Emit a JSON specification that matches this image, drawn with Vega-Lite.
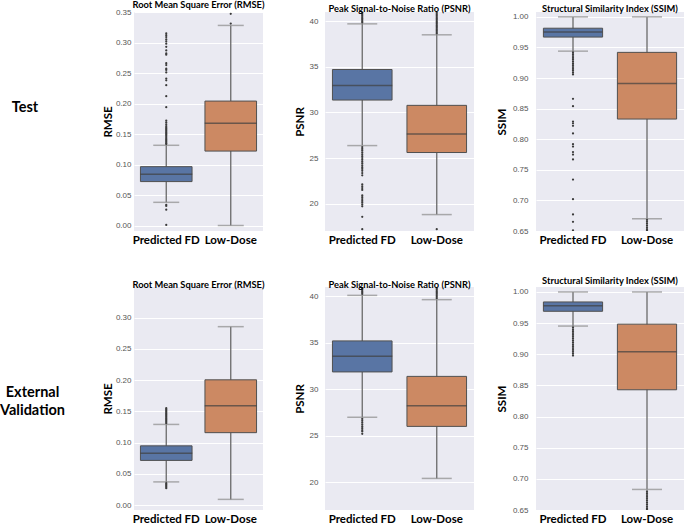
{
"$schema": "https://vega.github.io/schema/vega-lite/v6.json",
"padding": 0,
"background": "white",
"bounds": "flush",
"columns": 4,
"spacing": {"row": 56, "column": 62},
"config": {
  "view": {"fill": "#EAEAF2", "stroke": null},
  "title": {"font": "Lato", "fontSize": 9.3, "fontWeight": "bold", "color": "black", "offset": -2},
  "axisY": {"domain": false, "ticks": false, "labelFont": "Liberation Sans", "labelFontSize": 8, "labelColor": "#555555", "gridColor": "white", "gridWidth": 1, "titleFont": "Lato", "titleFontSize": 11.5, "titleFontWeight": "bold", "titleColor": "black", "labelOverlap": false},
  "axisX": {"domain": false, "ticks": false, "grid": false, "labelAngle": 0, "labelFont": "Lato", "labelFontSize": 11.5, "labelFontWeight": "bold", "labelColor": "black", "labelPadding": 3, "title": null},
  "tick": {"thickness": 1.5}
},
"datasets": {
  "boxes": [
    {"p": "T-RMSE", "group": "Predicted FD", "lo": 0.038, "q1": 0.072, "med": 0.084, "q3": 0.0965, "hi": 0.1315},
    {"p": "T-RMSE", "group": "Low-Dose", "lo": 0.0, "q1": 0.122, "med": 0.1675, "q3": 0.204, "hi": 0.328},
    {"p": "T-PSNR", "group": "Predicted FD", "lo": 26.36, "q1": 31.35, "med": 32.95, "q3": 34.7, "hi": 39.7},
    {"p": "T-PSNR", "group": "Low-Dose", "lo": 18.8, "q1": 25.6, "med": 27.64, "q3": 30.77, "hi": 38.5},
    {"p": "T-SSIM", "group": "Predicted FD", "lo": 0.944, "q1": 0.967, "med": 0.9754, "q3": 0.9815, "hi": 1.0},
    {"p": "T-SSIM", "group": "Low-Dose", "lo": 0.67, "q1": 0.833, "med": 0.891, "q3": 0.942, "hi": 1.0},
    {"p": "E-RMSE", "group": "Predicted FD", "lo": 0.037, "q1": 0.0714, "med": 0.083, "q3": 0.0947, "hi": 0.129},
    {"p": "E-RMSE", "group": "Low-Dose", "lo": 0.009, "q1": 0.1158, "med": 0.159, "q3": 0.2004, "hi": 0.2855},
    {"p": "E-PSNR", "group": "Predicted FD", "lo": 26.98, "q1": 31.86, "med": 33.56, "q3": 35.2, "hi": 40.1},
    {"p": "E-PSNR", "group": "Low-Dose", "lo": 20.4, "q1": 26.0, "med": 28.22, "q3": 31.38, "hi": 39.64},
    {"p": "E-SSIM", "group": "Predicted FD", "lo": 0.9453, "q1": 0.969, "med": 0.9777, "q3": 0.984, "hi": 1.0},
    {"p": "E-SSIM", "group": "Low-Dose", "lo": 0.683, "q1": 0.843, "med": 0.904, "q3": 0.9484, "hi": 1.0}
  ],
  "outliers": [
    {"p": "T-RMSE", "group": "Predicted FD", "v": 0.1335}, {"p": "T-RMSE", "group": "Predicted FD", "v": 0.135}, {"p": "T-RMSE", "group": "Predicted FD", "v": 0.137}, {"p": "T-RMSE", "group": "Predicted FD", "v": 0.139}, {"p": "T-RMSE", "group": "Predicted FD", "v": 0.141}, {"p": "T-RMSE", "group": "Predicted FD", "v": 0.143}, {"p": "T-RMSE", "group": "Predicted FD", "v": 0.145}, {"p": "T-RMSE", "group": "Predicted FD", "v": 0.147}, {"p": "T-RMSE", "group": "Predicted FD", "v": 0.149}, {"p": "T-RMSE", "group": "Predicted FD", "v": 0.151}, {"p": "T-RMSE", "group": "Predicted FD", "v": 0.153}, {"p": "T-RMSE", "group": "Predicted FD", "v": 0.155}, {"p": "T-RMSE", "group": "Predicted FD", "v": 0.157}, {"p": "T-RMSE", "group": "Predicted FD", "v": 0.159}, {"p": "T-RMSE", "group": "Predicted FD", "v": 0.161}, {"p": "T-RMSE", "group": "Predicted FD", "v": 0.163}, {"p": "T-RMSE", "group": "Predicted FD", "v": 0.166}, {"p": "T-RMSE", "group": "Predicted FD", "v": 0.169}, {"p": "T-RMSE", "group": "Predicted FD", "v": 0.172}, {"p": "T-RMSE", "group": "Predicted FD", "v": 0.194}, {"p": "T-RMSE", "group": "Predicted FD", "v": 0.212}, {"p": "T-RMSE", "group": "Predicted FD", "v": 0.23}, {"p": "T-RMSE", "group": "Predicted FD", "v": 0.238}, {"p": "T-RMSE", "group": "Predicted FD", "v": 0.241}, {"p": "T-RMSE", "group": "Predicted FD", "v": 0.251}, {"p": "T-RMSE", "group": "Predicted FD", "v": 0.255}, {"p": "T-RMSE", "group": "Predicted FD", "v": 0.257}, {"p": "T-RMSE", "group": "Predicted FD", "v": 0.263}, {"p": "T-RMSE", "group": "Predicted FD", "v": 0.266}, {"p": "T-RMSE", "group": "Predicted FD", "v": 0.28}, {"p": "T-RMSE", "group": "Predicted FD", "v": 0.282}, {"p": "T-RMSE", "group": "Predicted FD", "v": 0.287}, {"p": "T-RMSE", "group": "Predicted FD", "v": 0.293}, {"p": "T-RMSE", "group": "Predicted FD", "v": 0.298}, {"p": "T-RMSE", "group": "Predicted FD", "v": 0.302}, {"p": "T-RMSE", "group": "Predicted FD", "v": 0.305}, {"p": "T-RMSE", "group": "Predicted FD", "v": 0.309}, {"p": "T-RMSE", "group": "Predicted FD", "v": 0.312}, {"p": "T-RMSE", "group": "Predicted FD", "v": 0.315}, {"p": "T-RMSE", "group": "Predicted FD", "v": 0.034}, {"p": "T-RMSE", "group": "Predicted FD", "v": 0.032}, {"p": "T-RMSE", "group": "Predicted FD", "v": 0.026}, {"p": "T-RMSE", "group": "Predicted FD", "v": 0.001},
    {"p": "T-RMSE", "group": "Low-Dose", "v": 0.331}, {"p": "T-RMSE", "group": "Low-Dose", "v": 0.347},
    {"p": "T-PSNR", "group": "Predicted FD", "v": 39.85}, {"p": "T-PSNR", "group": "Predicted FD", "v": 40.0}, {"p": "T-PSNR", "group": "Predicted FD", "v": 40.15}, {"p": "T-PSNR", "group": "Predicted FD", "v": 40.3}, {"p": "T-PSNR", "group": "Predicted FD", "v": 40.45}, {"p": "T-PSNR", "group": "Predicted FD", "v": 40.6}, {"p": "T-PSNR", "group": "Predicted FD", "v": 40.75}, {"p": "T-PSNR", "group": "Predicted FD", "v": 40.9}, {"p": "T-PSNR", "group": "Predicted FD", "v": 26.2}, {"p": "T-PSNR", "group": "Predicted FD", "v": 26.0}, {"p": "T-PSNR", "group": "Predicted FD", "v": 25.8}, {"p": "T-PSNR", "group": "Predicted FD", "v": 25.6}, {"p": "T-PSNR", "group": "Predicted FD", "v": 25.4}, {"p": "T-PSNR", "group": "Predicted FD", "v": 25.2}, {"p": "T-PSNR", "group": "Predicted FD", "v": 25.0}, {"p": "T-PSNR", "group": "Predicted FD", "v": 24.8}, {"p": "T-PSNR", "group": "Predicted FD", "v": 24.6}, {"p": "T-PSNR", "group": "Predicted FD", "v": 24.4}, {"p": "T-PSNR", "group": "Predicted FD", "v": 24.2}, {"p": "T-PSNR", "group": "Predicted FD", "v": 24.0}, {"p": "T-PSNR", "group": "Predicted FD", "v": 23.8}, {"p": "T-PSNR", "group": "Predicted FD", "v": 23.6}, {"p": "T-PSNR", "group": "Predicted FD", "v": 23.35}, {"p": "T-PSNR", "group": "Predicted FD", "v": 23.1}, {"p": "T-PSNR", "group": "Predicted FD", "v": 22.1}, {"p": "T-PSNR", "group": "Predicted FD", "v": 21.9}, {"p": "T-PSNR", "group": "Predicted FD", "v": 21.7}, {"p": "T-PSNR", "group": "Predicted FD", "v": 21.5}, {"p": "T-PSNR", "group": "Predicted FD", "v": 20.9}, {"p": "T-PSNR", "group": "Predicted FD", "v": 20.7}, {"p": "T-PSNR", "group": "Predicted FD", "v": 20.5}, {"p": "T-PSNR", "group": "Predicted FD", "v": 20.3}, {"p": "T-PSNR", "group": "Predicted FD", "v": 20.1}, {"p": "T-PSNR", "group": "Predicted FD", "v": 19.9}, {"p": "T-PSNR", "group": "Predicted FD", "v": 19.7}, {"p": "T-PSNR", "group": "Predicted FD", "v": 18.55}, {"p": "T-PSNR", "group": "Predicted FD", "v": 17.2},
    {"p": "T-PSNR", "group": "Low-Dose", "v": 38.65}, {"p": "T-PSNR", "group": "Low-Dose", "v": 38.8}, {"p": "T-PSNR", "group": "Low-Dose", "v": 38.95}, {"p": "T-PSNR", "group": "Low-Dose", "v": 39.1}, {"p": "T-PSNR", "group": "Low-Dose", "v": 39.25}, {"p": "T-PSNR", "group": "Low-Dose", "v": 39.4}, {"p": "T-PSNR", "group": "Low-Dose", "v": 39.55}, {"p": "T-PSNR", "group": "Low-Dose", "v": 39.7}, {"p": "T-PSNR", "group": "Low-Dose", "v": 39.85}, {"p": "T-PSNR", "group": "Low-Dose", "v": 40.0}, {"p": "T-PSNR", "group": "Low-Dose", "v": 40.15}, {"p": "T-PSNR", "group": "Low-Dose", "v": 40.3}, {"p": "T-PSNR", "group": "Low-Dose", "v": 40.45}, {"p": "T-PSNR", "group": "Low-Dose", "v": 40.6}, {"p": "T-PSNR", "group": "Low-Dose", "v": 40.75}, {"p": "T-PSNR", "group": "Low-Dose", "v": 40.9}, {"p": "T-PSNR", "group": "Low-Dose", "v": 17.2},
    {"p": "T-SSIM", "group": "Predicted FD", "v": 0.942}, {"p": "T-SSIM", "group": "Predicted FD", "v": 0.939}, {"p": "T-SSIM", "group": "Predicted FD", "v": 0.936}, {"p": "T-SSIM", "group": "Predicted FD", "v": 0.933}, {"p": "T-SSIM", "group": "Predicted FD", "v": 0.93}, {"p": "T-SSIM", "group": "Predicted FD", "v": 0.927}, {"p": "T-SSIM", "group": "Predicted FD", "v": 0.924}, {"p": "T-SSIM", "group": "Predicted FD", "v": 0.921}, {"p": "T-SSIM", "group": "Predicted FD", "v": 0.918}, {"p": "T-SSIM", "group": "Predicted FD", "v": 0.915}, {"p": "T-SSIM", "group": "Predicted FD", "v": 0.912}, {"p": "T-SSIM", "group": "Predicted FD", "v": 0.909}, {"p": "T-SSIM", "group": "Predicted FD", "v": 0.906}, {"p": "T-SSIM", "group": "Predicted FD", "v": 0.866}, {"p": "T-SSIM", "group": "Predicted FD", "v": 0.854}, {"p": "T-SSIM", "group": "Predicted FD", "v": 0.829}, {"p": "T-SSIM", "group": "Predicted FD", "v": 0.826}, {"p": "T-SSIM", "group": "Predicted FD", "v": 0.822}, {"p": "T-SSIM", "group": "Predicted FD", "v": 0.8095}, {"p": "T-SSIM", "group": "Predicted FD", "v": 0.792}, {"p": "T-SSIM", "group": "Predicted FD", "v": 0.788}, {"p": "T-SSIM", "group": "Predicted FD", "v": 0.779}, {"p": "T-SSIM", "group": "Predicted FD", "v": 0.775}, {"p": "T-SSIM", "group": "Predicted FD", "v": 0.767}, {"p": "T-SSIM", "group": "Predicted FD", "v": 0.734}, {"p": "T-SSIM", "group": "Predicted FD", "v": 0.702}, {"p": "T-SSIM", "group": "Predicted FD", "v": 0.677}, {"p": "T-SSIM", "group": "Predicted FD", "v": 0.665}, {"p": "T-SSIM", "group": "Predicted FD", "v": 0.651},
    {"p": "T-SSIM", "group": "Low-Dose", "v": 0.668}, {"p": "T-SSIM", "group": "Low-Dose", "v": 0.665}, {"p": "T-SSIM", "group": "Low-Dose", "v": 0.662}, {"p": "T-SSIM", "group": "Low-Dose", "v": 0.659}, {"p": "T-SSIM", "group": "Low-Dose", "v": 0.656}, {"p": "T-SSIM", "group": "Low-Dose", "v": 0.653}, {"p": "T-SSIM", "group": "Low-Dose", "v": 0.6505},
    {"p": "E-RMSE", "group": "Predicted FD", "v": 0.131}, {"p": "E-RMSE", "group": "Predicted FD", "v": 0.133}, {"p": "E-RMSE", "group": "Predicted FD", "v": 0.135}, {"p": "E-RMSE", "group": "Predicted FD", "v": 0.137}, {"p": "E-RMSE", "group": "Predicted FD", "v": 0.139}, {"p": "E-RMSE", "group": "Predicted FD", "v": 0.141}, {"p": "E-RMSE", "group": "Predicted FD", "v": 0.143}, {"p": "E-RMSE", "group": "Predicted FD", "v": 0.145}, {"p": "E-RMSE", "group": "Predicted FD", "v": 0.147}, {"p": "E-RMSE", "group": "Predicted FD", "v": 0.149}, {"p": "E-RMSE", "group": "Predicted FD", "v": 0.151}, {"p": "E-RMSE", "group": "Predicted FD", "v": 0.153}, {"p": "E-RMSE", "group": "Predicted FD", "v": 0.155}, {"p": "E-RMSE", "group": "Predicted FD", "v": 0.035}, {"p": "E-RMSE", "group": "Predicted FD", "v": 0.033}, {"p": "E-RMSE", "group": "Predicted FD", "v": 0.031}, {"p": "E-RMSE", "group": "Predicted FD", "v": 0.029}, {"p": "E-RMSE", "group": "Predicted FD", "v": 0.027},
    {"p": "E-PSNR", "group": "Predicted FD", "v": 40.25}, {"p": "E-PSNR", "group": "Predicted FD", "v": 40.4}, {"p": "E-PSNR", "group": "Predicted FD", "v": 40.55}, {"p": "E-PSNR", "group": "Predicted FD", "v": 40.7}, {"p": "E-PSNR", "group": "Predicted FD", "v": 40.85}, {"p": "E-PSNR", "group": "Predicted FD", "v": 40.95}, {"p": "E-PSNR", "group": "Predicted FD", "v": 26.8}, {"p": "E-PSNR", "group": "Predicted FD", "v": 26.6}, {"p": "E-PSNR", "group": "Predicted FD", "v": 26.4}, {"p": "E-PSNR", "group": "Predicted FD", "v": 26.2}, {"p": "E-PSNR", "group": "Predicted FD", "v": 26.0}, {"p": "E-PSNR", "group": "Predicted FD", "v": 25.8}, {"p": "E-PSNR", "group": "Predicted FD", "v": 25.6}, {"p": "E-PSNR", "group": "Predicted FD", "v": 25.45}, {"p": "E-PSNR", "group": "Predicted FD", "v": 25.2},
    {"p": "E-PSNR", "group": "Low-Dose", "v": 39.8}, {"p": "E-PSNR", "group": "Low-Dose", "v": 39.95}, {"p": "E-PSNR", "group": "Low-Dose", "v": 40.1}, {"p": "E-PSNR", "group": "Low-Dose", "v": 40.25}, {"p": "E-PSNR", "group": "Low-Dose", "v": 40.4}, {"p": "E-PSNR", "group": "Low-Dose", "v": 40.55}, {"p": "E-PSNR", "group": "Low-Dose", "v": 40.7}, {"p": "E-PSNR", "group": "Low-Dose", "v": 40.85},
    {"p": "E-SSIM", "group": "Predicted FD", "v": 0.943}, {"p": "E-SSIM", "group": "Predicted FD", "v": 0.94}, {"p": "E-SSIM", "group": "Predicted FD", "v": 0.937}, {"p": "E-SSIM", "group": "Predicted FD", "v": 0.934}, {"p": "E-SSIM", "group": "Predicted FD", "v": 0.931}, {"p": "E-SSIM", "group": "Predicted FD", "v": 0.928}, {"p": "E-SSIM", "group": "Predicted FD", "v": 0.925}, {"p": "E-SSIM", "group": "Predicted FD", "v": 0.922}, {"p": "E-SSIM", "group": "Predicted FD", "v": 0.919}, {"p": "E-SSIM", "group": "Predicted FD", "v": 0.916}, {"p": "E-SSIM", "group": "Predicted FD", "v": 0.913}, {"p": "E-SSIM", "group": "Predicted FD", "v": 0.91}, {"p": "E-SSIM", "group": "Predicted FD", "v": 0.907}, {"p": "E-SSIM", "group": "Predicted FD", "v": 0.904}, {"p": "E-SSIM", "group": "Predicted FD", "v": 0.901}, {"p": "E-SSIM", "group": "Predicted FD", "v": 0.898},
    {"p": "E-SSIM", "group": "Low-Dose", "v": 0.68}, {"p": "E-SSIM", "group": "Low-Dose", "v": 0.677}, {"p": "E-SSIM", "group": "Low-Dose", "v": 0.674}, {"p": "E-SSIM", "group": "Low-Dose", "v": 0.671}, {"p": "E-SSIM", "group": "Low-Dose", "v": 0.668}, {"p": "E-SSIM", "group": "Low-Dose", "v": 0.665}, {"p": "E-SSIM", "group": "Low-Dose", "v": 0.662}, {"p": "E-SSIM", "group": "Low-Dose", "v": 0.659}, {"p": "E-SSIM", "group": "Low-Dose", "v": 0.656}, {"p": "E-SSIM", "group": "Low-Dose", "v": 0.653}, {"p": "E-SSIM", "group": "Low-Dose", "v": 0.6505}
  ],
  "labels": [{"row": "Test", "label": "Test"}, {"row": "EV", "label": "External\nValidation"}]
},
"concat": [
  {
    "width": 71, "height": 219,
    "view": {"fill": null},
    "data": {"name": "labels"},
    "transform": [{"filter": {"field": "row", "equal": "Test"}}],
    "mark": {"type": "text", "font": "Lato", "fontSize": 14.5, "fontWeight": "bold", "color": "black", "dx": -11.5, "dy": -14, "lineBreak": "\n", "lineHeight": 18},
    "encoding": {"text": {"field": "label"}}
  },
  {
    "width": 129, "height": 219,
    "title": "Root Mean Square Error (RMSE)",
    "data": {"name": "boxes"},
    "transform": [{"filter": {"field": "p", "equal": "T-RMSE"}}],
    "encoding": {"x": {"field": "group", "type": "nominal", "sort": ["Predicted FD", "Low-Dose"], "scale": {"paddingInner": 0, "paddingOuter": 0}}},
    "layer": [
      {"mark": {"type": "rule", "color": "#6a6a6a", "strokeWidth": 1.3}, "encoding": {"y": {"field": "lo", "type": "quantitative", "scale": {"domain": [-0.009, 0.35], "nice": false, "zero": false}, "axis": {"values": [0, 0.05, 0.1, 0.15, 0.2, 0.25, 0.3, 0.35], "format": ".2f", "labelPadding": 3, "titlePadding": 2}, "title": "RMSE"}, "y2": {"field": "hi"}}},
      {"mark": {"type": "tick", "color": "#8c8c8c", "size": 26}, "encoding": {"y": {"field": "lo", "type": "quantitative", "scale": {"domain": [-0.009, 0.35], "nice": false, "zero": false}, "axis": {"values": [0, 0.05, 0.1, 0.15, 0.2, 0.25, 0.3, 0.35], "format": ".2f", "labelPadding": 3, "titlePadding": 2}, "title": "RMSE"}}},
      {"mark": {"type": "tick", "color": "#8c8c8c", "size": 26}, "encoding": {"y": {"field": "hi", "type": "quantitative", "scale": {"domain": [-0.009, 0.35], "nice": false, "zero": false}, "axis": {"values": [0, 0.05, 0.1, 0.15, 0.2, 0.25, 0.3, 0.35], "format": ".2f", "labelPadding": 3, "titlePadding": 2}, "title": "RMSE"}}},
      {"mark": {"type": "bar", "width": {"band": 0.8}, "stroke": "#505050", "strokeWidth": 1}, "encoding": {"y": {"field": "q1", "type": "quantitative", "scale": {"domain": [-0.009, 0.35], "nice": false, "zero": false}, "axis": {"values": [0, 0.05, 0.1, 0.15, 0.2, 0.25, 0.3, 0.35], "format": ".2f", "labelPadding": 3, "titlePadding": 2}, "title": "RMSE"}, "y2": {"field": "q3"}, "color": {"field": "group", "type": "nominal", "scale": {"domain": ["Predicted FD", "Low-Dose"], "range": ["#5975a4", "#cc8963"]}, "legend": null}}},
      {"mark": {"type": "tick", "color": "#404040", "size": 52}, "encoding": {"y": {"field": "med", "type": "quantitative", "scale": {"domain": [-0.009, 0.35], "nice": false, "zero": false}, "axis": {"values": [0, 0.05, 0.1, 0.15, 0.2, 0.25, 0.3, 0.35], "format": ".2f", "labelPadding": 3, "titlePadding": 2}, "title": "RMSE"}}},
      {"data": {"name": "outliers"}, "transform": [{"filter": {"field": "p", "equal": "T-RMSE"}}], "mark": {"type": "point", "filled": true, "size": 5, "color": "#3a3a3a", "opacity": 1, "clip": true}, "encoding": {"y": {"field": "v", "type": "quantitative", "scale": {"domain": [-0.009, 0.35], "nice": false, "zero": false}, "axis": {"values": [0, 0.05, 0.1, 0.15, 0.2, 0.25, 0.3, 0.35], "format": ".2f", "labelPadding": 3, "titlePadding": 2}, "title": "RMSE"}}}
    ]
  },
  {
    "width": 149, "height": 219,
    "title": "Peak Signal-to-Noise Ratio (PSNR)",
    "data": {"name": "boxes"},
    "transform": [{"filter": {"field": "p", "equal": "T-PSNR"}}],
    "encoding": {"x": {"field": "group", "type": "nominal", "sort": ["Predicted FD", "Low-Dose"], "scale": {"paddingInner": 0, "paddingOuter": 0}}},
    "layer": [
      {"mark": {"type": "rule", "color": "#6a6a6a", "strokeWidth": 1.3}, "encoding": {"y": {"field": "lo", "type": "quantitative", "scale": {"domain": [17, 41], "nice": false, "zero": false}, "axis": {"values": [20, 25, 30, 35, 40], "labelPadding": 7, "titlePadding": 4}, "title": "PSNR"}, "y2": {"field": "hi"}}},
      {"mark": {"type": "tick", "color": "#8c8c8c", "size": 30}, "encoding": {"y": {"field": "lo", "type": "quantitative", "scale": {"domain": [17, 41], "nice": false, "zero": false}, "axis": {"values": [20, 25, 30, 35, 40], "labelPadding": 7, "titlePadding": 4}, "title": "PSNR"}}},
      {"mark": {"type": "tick", "color": "#8c8c8c", "size": 30}, "encoding": {"y": {"field": "hi", "type": "quantitative", "scale": {"domain": [17, 41], "nice": false, "zero": false}, "axis": {"values": [20, 25, 30, 35, 40], "labelPadding": 7, "titlePadding": 4}, "title": "PSNR"}}},
      {"mark": {"type": "bar", "width": {"band": 0.8}, "stroke": "#505050", "strokeWidth": 1}, "encoding": {"y": {"field": "q1", "type": "quantitative", "scale": {"domain": [17, 41], "nice": false, "zero": false}, "axis": {"values": [20, 25, 30, 35, 40], "labelPadding": 7, "titlePadding": 4}, "title": "PSNR"}, "y2": {"field": "q3"}, "color": {"field": "group", "type": "nominal", "scale": {"domain": ["Predicted FD", "Low-Dose"], "range": ["#5975a4", "#cc8963"]}, "legend": null}}},
      {"mark": {"type": "tick", "color": "#404040", "size": 60}, "encoding": {"y": {"field": "med", "type": "quantitative", "scale": {"domain": [17, 41], "nice": false, "zero": false}, "axis": {"values": [20, 25, 30, 35, 40], "labelPadding": 7, "titlePadding": 4}, "title": "PSNR"}}},
      {"data": {"name": "outliers"}, "transform": [{"filter": {"field": "p", "equal": "T-PSNR"}}], "mark": {"type": "point", "filled": true, "size": 5, "color": "#3a3a3a", "opacity": 1, "clip": true}, "encoding": {"y": {"field": "v", "type": "quantitative", "scale": {"domain": [17, 41], "nice": false, "zero": false}, "axis": {"values": [20, 25, 30, 35, 40], "labelPadding": 7, "titlePadding": 4}, "title": "PSNR"}}}
    ]
  },
  {
    "width": 148, "height": 219,
    "title": "Structural Similarity Index (SSIM)",
    "data": {"name": "boxes"},
    "transform": [{"filter": {"field": "p", "equal": "T-SSIM"}}],
    "encoding": {"x": {"field": "group", "type": "nominal", "sort": ["Predicted FD", "Low-Dose"], "scale": {"paddingInner": 0, "paddingOuter": 0}}},
    "layer": [
      {"mark": {"type": "rule", "color": "#6a6a6a", "strokeWidth": 1.3}, "encoding": {"y": {"field": "lo", "type": "quantitative", "scale": {"domain": [0.65, 1.008], "nice": false, "zero": false}, "axis": {"values": [0.65, 0.7, 0.75, 0.8, 0.85, 0.9, 0.95, 1.0], "format": ".2f", "labelPadding": 8, "titlePadding": 5}, "title": "SSIM"}, "y2": {"field": "hi"}}},
      {"mark": {"type": "tick", "color": "#8c8c8c", "size": 30}, "encoding": {"y": {"field": "lo", "type": "quantitative", "scale": {"domain": [0.65, 1.008], "nice": false, "zero": false}, "axis": {"values": [0.65, 0.7, 0.75, 0.8, 0.85, 0.9, 0.95, 1.0], "format": ".2f", "labelPadding": 8, "titlePadding": 5}, "title": "SSIM"}}},
      {"mark": {"type": "tick", "color": "#8c8c8c", "size": 30}, "encoding": {"y": {"field": "hi", "type": "quantitative", "scale": {"domain": [0.65, 1.008], "nice": false, "zero": false}, "axis": {"values": [0.65, 0.7, 0.75, 0.8, 0.85, 0.9, 0.95, 1.0], "format": ".2f", "labelPadding": 8, "titlePadding": 5}, "title": "SSIM"}}},
      {"mark": {"type": "bar", "width": {"band": 0.8}, "stroke": "#505050", "strokeWidth": 1}, "encoding": {"y": {"field": "q1", "type": "quantitative", "scale": {"domain": [0.65, 1.008], "nice": false, "zero": false}, "axis": {"values": [0.65, 0.7, 0.75, 0.8, 0.85, 0.9, 0.95, 1.0], "format": ".2f", "labelPadding": 8, "titlePadding": 5}, "title": "SSIM"}, "y2": {"field": "q3"}, "color": {"field": "group", "type": "nominal", "scale": {"domain": ["Predicted FD", "Low-Dose"], "range": ["#5975a4", "#cc8963"]}, "legend": null}}},
      {"mark": {"type": "tick", "color": "#404040", "size": 59}, "encoding": {"y": {"field": "med", "type": "quantitative", "scale": {"domain": [0.65, 1.008], "nice": false, "zero": false}, "axis": {"values": [0.65, 0.7, 0.75, 0.8, 0.85, 0.9, 0.95, 1.0], "format": ".2f", "labelPadding": 8, "titlePadding": 5}, "title": "SSIM"}}},
      {"data": {"name": "outliers"}, "transform": [{"filter": {"field": "p", "equal": "T-SSIM"}}], "mark": {"type": "point", "filled": true, "size": 5, "color": "#3a3a3a", "opacity": 1, "clip": true}, "encoding": {"y": {"field": "v", "type": "quantitative", "scale": {"domain": [0.65, 1.008], "nice": false, "zero": false}, "axis": {"values": [0.65, 0.7, 0.75, 0.8, 0.85, 0.9, 0.95, 1.0], "format": ".2f", "labelPadding": 8, "titlePadding": 5}, "title": "SSIM"}}}
    ]
  },
  {
    "width": 71, "height": 223,
    "view": {"fill": null},
    "data": {"name": "labels"},
    "transform": [{"filter": {"field": "row", "equal": "EV"}}],
    "mark": {"type": "text", "font": "Lato", "fontSize": 14.5, "fontWeight": "bold", "color": "black", "dx": -4, "dy": -6, "lineBreak": "\n", "lineHeight": 18},
    "encoding": {"text": {"field": "label"}}
  },
  {
    "width": 129, "height": 223,
    "title": {"text": "Root Mean Square Error (RMSE)", "offset": -3},
    "data": {"name": "boxes"},
    "transform": [{"filter": {"field": "p", "equal": "E-RMSE"}}],
    "encoding": {"x": {"field": "group", "type": "nominal", "sort": ["Predicted FD", "Low-Dose"], "scale": {"paddingInner": 0, "paddingOuter": 0}}},
    "layer": [
      {"mark": {"type": "rule", "color": "#6a6a6a", "strokeWidth": 1.3}, "encoding": {"y": {"field": "lo", "type": "quantitative", "scale": {"domain": [-0.008, 0.349], "nice": false, "zero": false}, "axis": {"values": [0, 0.05, 0.1, 0.15, 0.2, 0.25, 0.3, 0.35], "format": ".2f", "labelPadding": 3, "titlePadding": 2}, "title": "RMSE"}, "y2": {"field": "hi"}}},
      {"mark": {"type": "tick", "color": "#8c8c8c", "size": 26}, "encoding": {"y": {"field": "lo", "type": "quantitative", "scale": {"domain": [-0.008, 0.349], "nice": false, "zero": false}, "axis": {"values": [0, 0.05, 0.1, 0.15, 0.2, 0.25, 0.3, 0.35], "format": ".2f", "labelPadding": 3, "titlePadding": 2}, "title": "RMSE"}}},
      {"mark": {"type": "tick", "color": "#8c8c8c", "size": 26}, "encoding": {"y": {"field": "hi", "type": "quantitative", "scale": {"domain": [-0.008, 0.349], "nice": false, "zero": false}, "axis": {"values": [0, 0.05, 0.1, 0.15, 0.2, 0.25, 0.3, 0.35], "format": ".2f", "labelPadding": 3, "titlePadding": 2}, "title": "RMSE"}}},
      {"mark": {"type": "bar", "width": {"band": 0.8}, "stroke": "#505050", "strokeWidth": 1}, "encoding": {"y": {"field": "q1", "type": "quantitative", "scale": {"domain": [-0.008, 0.349], "nice": false, "zero": false}, "axis": {"values": [0, 0.05, 0.1, 0.15, 0.2, 0.25, 0.3, 0.35], "format": ".2f", "labelPadding": 3, "titlePadding": 2}, "title": "RMSE"}, "y2": {"field": "q3"}, "color": {"field": "group", "type": "nominal", "scale": {"domain": ["Predicted FD", "Low-Dose"], "range": ["#5975a4", "#cc8963"]}, "legend": null}}},
      {"mark": {"type": "tick", "color": "#404040", "size": 52}, "encoding": {"y": {"field": "med", "type": "quantitative", "scale": {"domain": [-0.008, 0.349], "nice": false, "zero": false}, "axis": {"values": [0, 0.05, 0.1, 0.15, 0.2, 0.25, 0.3, 0.35], "format": ".2f", "labelPadding": 3, "titlePadding": 2}, "title": "RMSE"}}},
      {"data": {"name": "outliers"}, "transform": [{"filter": {"field": "p", "equal": "E-RMSE"}}], "mark": {"type": "point", "filled": true, "size": 5, "color": "#3a3a3a", "opacity": 1, "clip": true}, "encoding": {"y": {"field": "v", "type": "quantitative", "scale": {"domain": [-0.008, 0.349], "nice": false, "zero": false}, "axis": {"values": [0, 0.05, 0.1, 0.15, 0.2, 0.25, 0.3, 0.35], "format": ".2f", "labelPadding": 3, "titlePadding": 2}, "title": "RMSE"}}}
    ]
  },
  {
    "width": 149, "height": 223,
    "title": {"text": "Peak Signal-to-Noise Ratio (PSNR)", "offset": -3},
    "data": {"name": "boxes"},
    "transform": [{"filter": {"field": "p", "equal": "E-PSNR"}}],
    "encoding": {"x": {"field": "group", "type": "nominal", "sort": ["Predicted FD", "Low-Dose"], "scale": {"paddingInner": 0, "paddingOuter": 0}}},
    "layer": [
      {"mark": {"type": "rule", "color": "#6a6a6a", "strokeWidth": 1.3}, "encoding": {"y": {"field": "lo", "type": "quantitative", "scale": {"domain": [17, 41], "nice": false, "zero": false}, "axis": {"values": [20, 25, 30, 35, 40], "labelPadding": 7, "titlePadding": 4}, "title": "PSNR"}, "y2": {"field": "hi"}}},
      {"mark": {"type": "tick", "color": "#8c8c8c", "size": 30}, "encoding": {"y": {"field": "lo", "type": "quantitative", "scale": {"domain": [17, 41], "nice": false, "zero": false}, "axis": {"values": [20, 25, 30, 35, 40], "labelPadding": 7, "titlePadding": 4}, "title": "PSNR"}}},
      {"mark": {"type": "tick", "color": "#8c8c8c", "size": 30}, "encoding": {"y": {"field": "hi", "type": "quantitative", "scale": {"domain": [17, 41], "nice": false, "zero": false}, "axis": {"values": [20, 25, 30, 35, 40], "labelPadding": 7, "titlePadding": 4}, "title": "PSNR"}}},
      {"mark": {"type": "bar", "width": {"band": 0.8}, "stroke": "#505050", "strokeWidth": 1}, "encoding": {"y": {"field": "q1", "type": "quantitative", "scale": {"domain": [17, 41], "nice": false, "zero": false}, "axis": {"values": [20, 25, 30, 35, 40], "labelPadding": 7, "titlePadding": 4}, "title": "PSNR"}, "y2": {"field": "q3"}, "color": {"field": "group", "type": "nominal", "scale": {"domain": ["Predicted FD", "Low-Dose"], "range": ["#5975a4", "#cc8963"]}, "legend": null}}},
      {"mark": {"type": "tick", "color": "#404040", "size": 60}, "encoding": {"y": {"field": "med", "type": "quantitative", "scale": {"domain": [17, 41], "nice": false, "zero": false}, "axis": {"values": [20, 25, 30, 35, 40], "labelPadding": 7, "titlePadding": 4}, "title": "PSNR"}}},
      {"data": {"name": "outliers"}, "transform": [{"filter": {"field": "p", "equal": "E-PSNR"}}], "mark": {"type": "point", "filled": true, "size": 5, "color": "#3a3a3a", "opacity": 1, "clip": true}, "encoding": {"y": {"field": "v", "type": "quantitative", "scale": {"domain": [17, 41], "nice": false, "zero": false}, "axis": {"values": [20, 25, 30, 35, 40], "labelPadding": 7, "titlePadding": 4}, "title": "PSNR"}}}
    ]
  },
  {
    "width": 148, "height": 223,
    "title": {"text": "Structural Similarity Index (SSIM)", "offset": 1},
    "data": {"name": "boxes"},
    "transform": [{"filter": {"field": "p", "equal": "E-SSIM"}}],
    "encoding": {"x": {"field": "group", "type": "nominal", "sort": ["Predicted FD", "Low-Dose"], "scale": {"paddingInner": 0, "paddingOuter": 0}}},
    "layer": [
      {"mark": {"type": "rule", "color": "#6a6a6a", "strokeWidth": 1.3}, "encoding": {"y": {"field": "lo", "type": "quantitative", "scale": {"domain": [0.65, 1.008], "nice": false, "zero": false}, "axis": {"values": [0.65, 0.7, 0.75, 0.8, 0.85, 0.9, 0.95, 1.0], "format": ".2f", "labelPadding": 8, "titlePadding": 5}, "title": "SSIM"}, "y2": {"field": "hi"}}},
      {"mark": {"type": "tick", "color": "#8c8c8c", "size": 30}, "encoding": {"y": {"field": "lo", "type": "quantitative", "scale": {"domain": [0.65, 1.008], "nice": false, "zero": false}, "axis": {"values": [0.65, 0.7, 0.75, 0.8, 0.85, 0.9, 0.95, 1.0], "format": ".2f", "labelPadding": 8, "titlePadding": 5}, "title": "SSIM"}}},
      {"mark": {"type": "tick", "color": "#8c8c8c", "size": 30}, "encoding": {"y": {"field": "hi", "type": "quantitative", "scale": {"domain": [0.65, 1.008], "nice": false, "zero": false}, "axis": {"values": [0.65, 0.7, 0.75, 0.8, 0.85, 0.9, 0.95, 1.0], "format": ".2f", "labelPadding": 8, "titlePadding": 5}, "title": "SSIM"}}},
      {"mark": {"type": "bar", "width": {"band": 0.8}, "stroke": "#505050", "strokeWidth": 1}, "encoding": {"y": {"field": "q1", "type": "quantitative", "scale": {"domain": [0.65, 1.008], "nice": false, "zero": false}, "axis": {"values": [0.65, 0.7, 0.75, 0.8, 0.85, 0.9, 0.95, 1.0], "format": ".2f", "labelPadding": 8, "titlePadding": 5}, "title": "SSIM"}, "y2": {"field": "q3"}, "color": {"field": "group", "type": "nominal", "scale": {"domain": ["Predicted FD", "Low-Dose"], "range": ["#5975a4", "#cc8963"]}, "legend": null}}},
      {"mark": {"type": "tick", "color": "#404040", "size": 59}, "encoding": {"y": {"field": "med", "type": "quantitative", "scale": {"domain": [0.65, 1.008], "nice": false, "zero": false}, "axis": {"values": [0.65, 0.7, 0.75, 0.8, 0.85, 0.9, 0.95, 1.0], "format": ".2f", "labelPadding": 8, "titlePadding": 5}, "title": "SSIM"}}},
      {"data": {"name": "outliers"}, "transform": [{"filter": {"field": "p", "equal": "E-SSIM"}}], "mark": {"type": "point", "filled": true, "size": 5, "color": "#3a3a3a", "opacity": 1, "clip": true}, "encoding": {"y": {"field": "v", "type": "quantitative", "scale": {"domain": [0.65, 1.008], "nice": false, "zero": false}, "axis": {"values": [0.65, 0.7, 0.75, 0.8, 0.85, 0.9, 0.95, 1.0], "format": ".2f", "labelPadding": 8, "titlePadding": 5}, "title": "SSIM"}}}
    ]
  }
]
}
